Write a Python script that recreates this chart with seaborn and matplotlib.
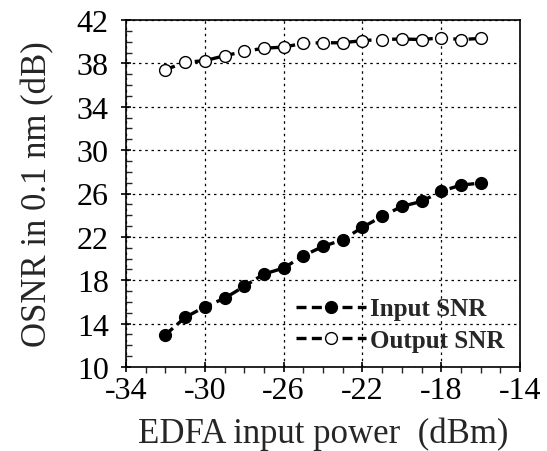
import numpy as np
import pandas as pd
import matplotlib
matplotlib.use("Agg")
import matplotlib.pyplot as plt
import seaborn as sns
from matplotlib.ticker import MultipleLocator

power = [-32, -31, -30, -29, -28, -27, -26, -25, -24, -23, -22, -21, -20, -19, -18, -17, -16]
input_snr = [12.97, 14.57, 15.55, 16.33, 17.43, 18.57, 19.12, 20.26, 21.12, 21.73,
             22.88, 23.89, 24.81, 25.27, 26.2, 26.78, 26.96]
output_snr = [37.42, 38.1, 38.25, 38.7, 39.1, 39.4, 39.5, 39.85, 39.9, 39.9,
              40.1, 40.2, 40.25, 40.2, 40.35, 40.2, 40.3]
series_names = ["Input SNR", "Output SNR"]
xticks = [-34, -30, -26, -22, -18, -14]
yticks = [10, 14, 18, 22, 26, 30, 34, 38, 42]

sns.set_style("white")
plt.rcParams['font.family'] = ['Liberation Serif', 'DejaVu Serif']

df_in = pd.DataFrame({"x": power, "y": input_snr})
df_out = pd.DataFrame({"x": power, "y": output_snr})

fig = plt.figure(figsize=(5.47, 4.52), dpi=100)
ax = fig.add_axes([126/547, 1-368/452, (520-126)/547, (368-21)/452])

sns.lineplot(data=df_in, x="x", y="y", ax=ax, color="black", linewidth=2.4,
             linestyle=(0, (3, 1.6)), marker="o", markersize=8.5,
             markerfacecolor="black", markeredgecolor="black", markeredgewidth=1,
             label=series_names[0])
sns.lineplot(data=df_out, x="x", y="y", ax=ax, color="black", linewidth=2.4,
             linestyle=(0, (3, 1.6)), marker="o", markersize=8.5,
             markerfacecolor="white", markeredgecolor="black", markeredgewidth=1,
             label=series_names[1])

ax.set_xlim(-34, -14)
ax.set_ylim(10, 42)
ax.set_xticks(xticks)
ax.set_yticks(yticks)
ax.set_xticklabels([str(t) for t in xticks])
ax.set_yticklabels([str(t) for t in yticks])
ax.xaxis.set_minor_locator(MultipleLocator(1))
ax.yaxis.set_minor_locator(MultipleLocator(1))

ax.grid(True, which="major", color="black", linestyle=(0, (2, 3)), linewidth=0.9)
ax.tick_params(axis="both", which="major", labelsize=23, colors="black",
               length=7, width=1.2)
ax.tick_params(axis="x", which="major", direction="inout", bottom=True, pad=3)
ax.tick_params(axis="y", which="major", direction="inout", left=True, pad=9)
ax.tick_params(axis="x", which="minor", direction="out", length=4, width=1, bottom=True)
ax.tick_params(axis="y", which="minor", direction="in", length=4, width=1, left=True)

for s in ax.spines.values():
    s.set_color("black")
    s.set_linewidth(1.2)
    s.set_visible(True)

ax.set_xlabel("EDFA input power  (dBm)", fontsize=25, labelpad=8)
ax.set_ylabel("OSNR in 0.1 nm (dB)", fontsize=25, labelpad=16)

leg = ax.legend(loc="lower right", frameon=False, prop={"weight": "bold", "size": 18},
                handlelength=2.8, handletextpad=0.2, borderaxespad=0.2,
                labelspacing=0.35, bbox_to_anchor=(1.0, 0.0))

fig.savefig("out.png", dpi=100)
